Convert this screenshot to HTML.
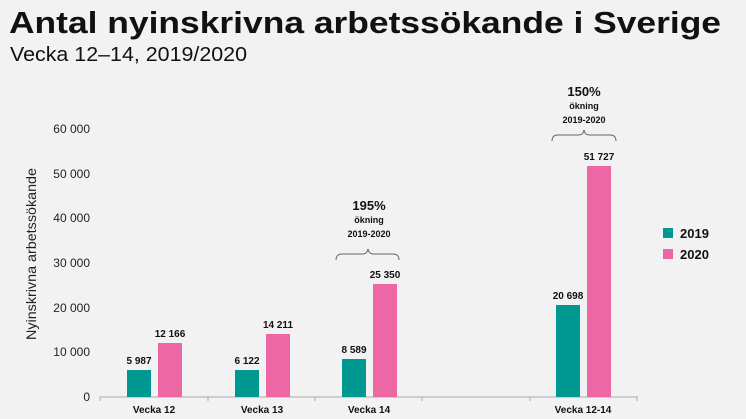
<!DOCTYPE html>
<html><head><meta charset="utf-8"><style>
body{margin:0;background:#f2f2f2;}
svg{display:block;font-family:"Liberation Sans",sans-serif;}
</style></head><body>
<svg width="746" height="419" viewBox="0 0 746 419">
<rect width="746" height="419" fill="#f2f2f2"/>
<text x="9" y="33" font-size="31" font-weight="bold" fill="#111" textLength="712" lengthAdjust="spacingAndGlyphs">Antal nyinskrivna arbetssökande i Sverige</text>
<text x="10" y="61" font-size="20" fill="#111" textLength="237" lengthAdjust="spacingAndGlyphs">Vecka 12–14, 2019/2020</text>
<g font-size="12" fill="#222" text-anchor="end">
<text x="90" y="401">0</text>
<text x="90" y="356">10 000</text>
<text x="90" y="312">20 000</text>
<text x="90" y="267">30 000</text>
<text x="90" y="222">40 000</text>
<text x="90" y="178">50 000</text>
<text x="90" y="133">60 000</text>
</g>
<text transform="translate(36,254) rotate(-90)" font-size="14" fill="#222" text-anchor="middle" textLength="172" lengthAdjust="spacingAndGlyphs">Nyinskrivna arbetssökande</text>
<line x1="100" y1="397" x2="638" y2="397" stroke="#aaa" stroke-width="1"/>
<g stroke="#aaa"><line x1="100" y1="397" x2="100" y2="401"/><line x1="208" y1="397" x2="208" y2="401"/><line x1="315" y1="397" x2="315" y2="401"/><line x1="422" y1="397" x2="422" y2="401"/><line x1="530" y1="397" x2="530" y2="401"/><line x1="637" y1="397" x2="637" y2="401"/></g>
<g fill="#009991">
<rect x="127" y="370" width="24" height="27"/>
<rect x="235" y="370" width="24" height="27"/>
<rect x="342" y="359" width="24" height="38"/>
<rect x="556" y="305" width="24" height="92"/>
</g>
<g fill="#ec67a3">
<rect x="158" y="343" width="24" height="54"/>
<rect x="266" y="334" width="24" height="63"/>
<rect x="373" y="284" width="24" height="113"/>
<rect x="587" y="166" width="24" height="231"/>
</g>
<g font-size="10" font-weight="bold" fill="#111" text-anchor="middle">
<text x="139" y="364">5 987</text><text x="170" y="337">12 166</text>
<text x="247" y="364">6 122</text><text x="278" y="328">14 211</text>
<text x="354" y="353">8 589</text><text x="385" y="278">25 350</text>
<text x="568" y="299">20 698</text><text x="599" y="160">51 727</text>
<text x="154" y="413">Vecka 12</text><text x="262" y="413">Vecka 13</text>
<text x="369" y="413">Vecka 14</text><text x="583" y="413">Vecka 12-14</text>
</g>
<g text-anchor="middle" fill="#111" font-weight="bold">
<text x="369" y="210" font-size="13">195%</text>
<text x="369" y="223" font-size="9">ökning</text>
<text x="369" y="237" font-size="9">2019-2020</text>
<text x="584" y="96" font-size="13">150%</text>
<text x="584" y="109" font-size="9">ökning</text>
<text x="584" y="123" font-size="9">2019-2020</text>
</g>
<path d="M336,260 q0,-6 6,-6 h21 q4,0 5,-5 q1,5 5,5 h20 q6,0 6,6" fill="none" stroke="#666" stroke-width="1"/>
<path d="M552,141 q0,-6 6,-6 h21 q4,0 5,-5 q1,5 5,5 h21 q6,0 6,6" fill="none" stroke="#666" stroke-width="1"/>
<rect x="663" y="228" width="10" height="10" fill="#009991"/>
<text x="680" y="238" font-size="13" font-weight="bold" fill="#111">2019</text>
<rect x="663" y="249" width="10" height="10" fill="#ec67a3"/>
<text x="680" y="259" font-size="13" font-weight="bold" fill="#111">2020</text>
</svg>
</body></html>
